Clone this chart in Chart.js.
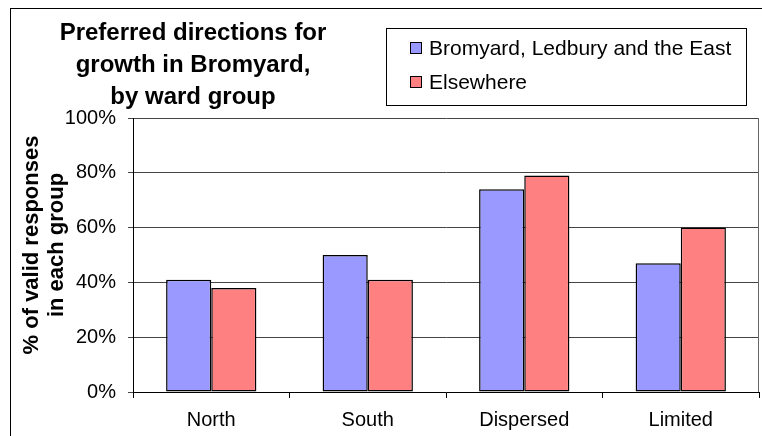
<!DOCTYPE html>
<html>
<head>
<meta charset="utf-8">
<script src="https://cdn.jsdelivr.net/npm/chart.js@4"></script>
<style>
  html, body { margin: 0; padding: 0; background: #fff; }
  #wrap { width: 762px; height: 436px; position: relative; }
</style>
</head>
<body>
<div id="wrap"><canvas id="chart" width="762" height="436"></canvas></div>
<script>
// Данные графика
const categories = ['North', 'South', 'Dispersed', 'Limited'];
const seriesNames = ['Bromyard, Ledbury and the East', 'Elsewhere'];
const eastValues = [41, 50, 74, 47];
const elsewhereValues = [38, 41, 79, 60];
const yTicks = [0, 20, 40, 60, 80, 100];
const titleLines = ['Preferred directions for', 'growth in Bromyard,', 'by ward group'];
const yTitleLines = ['% of valid responses', 'in each group'];

const FONT = '"Liberation Sans", Arial, sans-serif';

// Рамка, заголовок и легенда рисуются поверх
const decorPlugin = {
    id: 'decor',
    beforeDraw(chart) {
        const ctx = chart.ctx;
        ctx.save();
        ctx.fillStyle = '#fff';
        ctx.fillRect(0, 0, chart.width, chart.height);
        ctx.strokeStyle = '#000';
        ctx.lineWidth = 1;
        ctx.strokeRect(10.5, 8.5, 900, 600);
        ctx.restore();
    },
    afterDraw(chart) {
        const ctx = chart.ctx;
        const area = chart.chartArea;
        ctx.save();

        // правая граница области построения
        ctx.strokeStyle = '#666';
        ctx.lineWidth = 1;
        ctx.beginPath();
        ctx.moveTo(Math.round(area.right) - 0.5, area.top);
        ctx.lineTo(Math.round(area.right) - 0.5, area.bottom);
        ctx.stroke();

        // заголовок
        ctx.fillStyle = '#000';
        ctx.font = 'bold 24px ' + FONT;
        ctx.textAlign = 'center';
        ctx.textBaseline = 'alphabetic';
        titleLines.forEach((line, i) => {
            ctx.fillText(line, 193, 40 + i * 32);
        });

        // подпись оси Y
        ctx.save();
        ctx.rotate(-Math.PI / 2);
        ctx.font = 'bold 22px ' + FONT;
        ctx.textBaseline = 'middle';
        yTitleLines.forEach((line, i) => {
            ctx.fillText(line, -245, 32 + i * 25);
        });
        ctx.restore();

        // легенда
        ctx.fillStyle = '#fff';
        ctx.fillRect(386, 28, 360, 77);
        ctx.strokeStyle = '#000';
        ctx.strokeRect(386.5, 28.5, 360, 77);
        ctx.font = '21px ' + FONT;
        ctx.textAlign = 'left';
        ctx.textBaseline = 'middle';
        chart.data.datasets.forEach((ds, i) => {
            const y = 48 + i * 34;
            ctx.fillStyle = ds.backgroundColor;
            ctx.fillRect(410, y - 6, 11, 11);
            ctx.strokeStyle = '#000';
            ctx.strokeRect(410.5, y - 5.5, 11, 11);
            ctx.fillStyle = '#000';
            ctx.fillText(ds.label, 429, y + 1);
        });
        ctx.restore();
    }
};

new Chart(document.getElementById('chart'), {
    type: 'bar',
    data: {
        labels: categories,
        datasets: [
            {
                label: seriesNames[0],
                data: eastValues,
                backgroundColor: '#9999FF',
                borderColor: '#000',
                borderWidth: 1.5,
                borderSkipped: false
            },
            {
                label: seriesNames[1],
                data: elsewhereValues,
                backgroundColor: '#FF8080',
                borderColor: '#000',
                borderWidth: 1.5,
                borderSkipped: false
            }
        ]
    },
    options: {
        responsive: false,
        animation: false,
        devicePixelRatio: 1,
        layout: { padding: { top: 118, right: 3, left: 0, bottom: 0 } },
        categoryPercentage: 0.577,
        barPercentage: 1,
        plugins: {
            legend: { display: false },
            title: { display: false },
            tooltip: { enabled: false }
        },
        scales: {
            x: {
                offset: true,
                afterFit(scale) { scale.height = 44; },
                grid: {
                    offset: true,
                    drawOnChartArea: false,
                    drawTicks: true,
                    tickLength: 6,
                    color: '#000'
                },
                border: { color: '#000', width: 1 },
                ticks: {
                    color: '#000',
                    font: { family: FONT, size: 20 },
                    padding: 10
                }
            },
            y: {
                min: 0,
                max: 100,
                afterFit(scale) { scale.width = 133; },
                afterBuildTicks(scale) {
                    scale.ticks = yTicks.map(v => ({ value: v }));
                },
                grid: {
                    color: '#444',
                    lineWidth: 1,
                    tickLength: 5
                },
                border: { color: '#000', width: 1 },
                ticks: {
                    color: '#000',
                    font: { family: FONT, size: 20 },
                    padding: 12,
                    callback: v => v + '%'
                }
            }
        }
    },
    plugins: [decorPlugin]
});
</script>
</body>
</html>
